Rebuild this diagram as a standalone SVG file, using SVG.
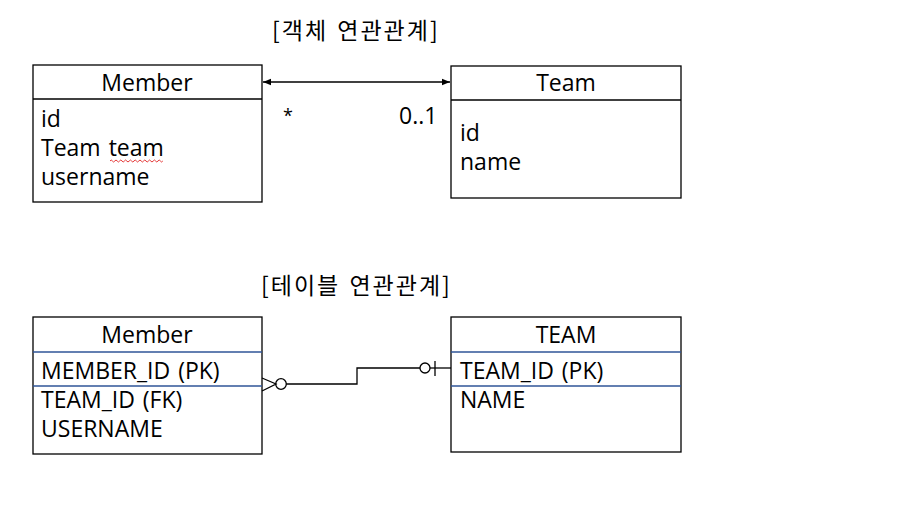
<svg xmlns="http://www.w3.org/2000/svg" width="922" height="508" viewBox="0 0 922 508">
<defs>
<style>
text{font-family:"Open Sans","Noto Sans CJK KR",sans-serif;font-size:23px;fill:#000;word-spacing:2px}
.t{text-anchor:middle}
.box{fill:#fff;stroke:#000;stroke-width:1.3}
.ln{stroke:#000;stroke-width:1.3;fill:none}
.bl{stroke:#2F5597;stroke-width:1.3;fill:none}
.ttl{font-family:"Noto Sans CJK KR","Open Sans",sans-serif;font-size:23px;letter-spacing:2px}
</style>
<marker id="ah" viewBox="0 0 10 10" refX="10" refY="5" markerWidth="8" markerHeight="8" orient="auto-start-reverse" markerUnits="userSpaceOnUse">
<path d="M0,1 L10,5 L0,9 z" fill="#000"/>
</marker>
</defs>
<rect width="922" height="508" fill="#fff"/>
<text class="ttl" x="272" y="39">[객체 연관관계]</text>
<text class="ttl" x="261" y="294">[테이블 연관관계]</text>

<g id="member-obj">
<rect class="box" x="33" y="65" width="229" height="137"/>
<line class="ln" x1="33" y1="99" x2="262" y2="99"/>
<text class="t" x="147" y="91">Member</text>
<text x="41" y="127">id</text>
<text x="41" y="156">Team team</text>
<text x="41" y="185">username</text>
<path d="M110,161 q1.2,-2 2.4,0 t2.4,0 t2.4,0 t2.4,0 t2.4,0 t2.4,0 t2.4,0 t2.4,0 t2.4,0 t2.4,0 t2.4,0 t2.4,0 t2.4,0 t2.4,0 t2.4,0 t2.4,0 t2.4,0 t2.4,0 t2.4,0 t2.4,0 t2.4,0 t2.4,0" fill="none" stroke="#e02020" stroke-width="0.9"/>
</g>

<g id="team-obj">
<rect class="box" x="451" y="66" width="230" height="132"/>
<line class="ln" x1="451" y1="100" x2="681" y2="100"/>
<text class="t" x="566" y="91">Team</text>
<text x="460" y="141">id</text>
<text x="460" y="170">name</text>
</g>

<g id="member-tbl">
<rect class="box" x="33" y="317" width="229" height="137"/>
<line class="bl" x1="33" y1="352" x2="262" y2="352"/>
<line class="bl" x1="33" y1="386" x2="262" y2="386"/>
<text class="t" x="147" y="343">Member</text>
<text x="41" y="379">MEMBER_ID (PK)</text>
<text x="41" y="408">TEAM_ID (FK)</text>
<text x="41" y="437">USERNAME</text>
</g>

<g id="team-tbl">
<rect class="box" x="451" y="317" width="230" height="135"/>
<line class="bl" x1="451" y1="352" x2="681" y2="352"/>
<line class="bl" x1="451" y1="386" x2="681" y2="386"/>
<text class="t" x="566" y="343">TEAM</text>
<text x="460" y="379">TEAM_ID (PK)</text>
<text x="460" y="408">NAME</text>
</g>

<g id="connectors">
<line class="ln" x1="263" y1="82" x2="450" y2="82" marker-start="url(#ah)" marker-end="url(#ah)"/>
<text x="283" y="122" style="font-size:18px">*</text>
<text x="399" y="124">0..1</text>
<path class="ln" d="M262,378 L276,384 L262,391"/>
<circle class="ln" cx="281" cy="384" r="5.3"/>
<path class="ln" d="M286.3,384 H357 V368 H420"/>
<circle class="ln" cx="425" cy="368" r="5"/>
<line class="ln" x1="430" y1="368" x2="451" y2="368"/>
<line class="ln" x1="435" y1="361" x2="435" y2="376"/>
</g>
</svg>
